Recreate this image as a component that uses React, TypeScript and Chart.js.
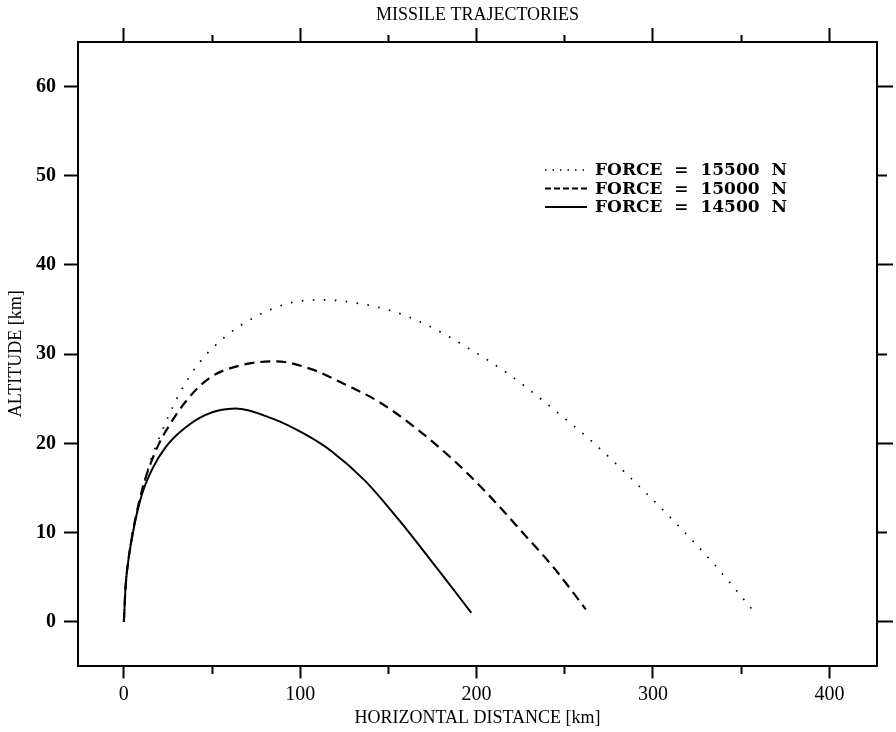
import { useEffect, useRef } from 'react';
import { Chart, registerables } from 'chart.js';

Chart.register(...registerables);

const TITLE = 'MISSILE TRAJECTORIES';
const X_TITLE = 'HORIZONTAL DISTANCE [km]';
const Y_TITLE = 'ALTITUDE [km]';

const X_TICKS = [0, 50, 100, 150, 200, 250, 300, 350, 400];
const X_LABELED = [0, 100, 200, 300, 400];
const Y_TICKS = [0, 10, 20, 30, 40, 50, 60];
const Y_RIGHT_MAJOR = [0, 20, 40, 60];

const LEGEND_LABELS = ['FORCE  =  15500  N', 'FORCE  =  15000  N', 'FORCE  =  14500  N'];

const F15500_X = [0, 1, 2.5, 4.5, 8.7, 14.4, 20, 31.3, 42.6, 57.7, 74.6, 93.4, 112.3, 133, 152.7, 171.5, 195.1, 218.6, 245, 266.6, 286.4, 310.8, 334, 357];
const F15500_Y = [0, 4, 6.9, 9.6, 13.2, 17.6, 20.6, 25.5, 29.0, 32.0, 34.2, 35.7, 36.1, 35.7, 34.8, 33.3, 30.7, 27.7, 23.6, 20.0, 16.3, 11.5, 6.6, 1.2];

const F15000_X = [0, 1, 2.5, 4.5, 7, 10.6, 14.5, 20, 25.7, 35.1, 48.3, 65.2, 85.9, 106.6, 125.5, 144.3, 166.9, 187.6, 206.4, 225.2, 244, 261.9];
const F15000_Y = [0, 4, 6.8, 9.4, 12.0, 15.0, 17.4, 20.0, 22.0, 24.7, 27.3, 28.7, 29.2, 28.3, 26.6, 24.7, 21.5, 18.0, 14.3, 10.2, 6.0, 1.4];

const F14500_X = [0, 1, 2.5, 4.5, 7, 10.6, 16.3, 23.8, 33.2, 46.4, 63.3, 84, 102.9, 117.9, 136.8, 155.6, 166.9, 181.9, 197];
const F14500_Y = [0, 4, 6.8, 9.3, 11.8, 14.5, 17.2, 19.6, 21.5, 23.2, 23.9, 22.8, 21.0, 19.1, 15.8, 11.5, 8.7, 4.9, 1.0];

const SERIES_X = [F15500_X, F15000_X, F14500_X];
const SERIES_Y = [F15500_Y, F15000_Y, F14500_Y];
const SERIES_DASH = [[1.6, 9.4], [10, 6], []];
const SERIES_WIDTH = [1.7, 2.2, 2];
const LEGEND_DASH = [[1.5, 6], [6, 3], []];

const SERIF = '"Liberation Serif", "Times New Roman", serif';
const LEGEND_FONT = 'bold 17px "DejaVu Serif", serif';

const legendPlugin = {
  id: 'insideLegend',
  afterDatasetsDraw(chart: any) {
    const { ctx, chartArea } = chart;
    const x0 = chartArea.right - 332;
    const x1 = x0 + 42;
    const tx = x1 + 8;
    const yStart = chartArea.top + 128;
    const dy = 18.5;
    ctx.save();
    chart.data.datasets.forEach((ds: any, i: number) => {
      const y = yStart + i * dy;
      ctx.strokeStyle = '#000';
      ctx.lineWidth = i === 0 ? 1.5 : 2;
      ctx.setLineDash(LEGEND_DASH[i]);
      ctx.beginPath();
      ctx.moveTo(x0, y);
      ctx.lineTo(x1, y);
      ctx.stroke();
      ctx.setLineDash([]);
      ctx.fillStyle = '#000';
      ctx.font = LEGEND_FONT;
      ctx.textBaseline = 'middle';
      ctx.textAlign = 'left';
      ctx.fillText(ds.label, tx, y + 1);
    });
    ctx.restore();
  },
};

const xMinorDash = (len: number, fromOuter: boolean) => (c: any) => {
  const v = c && c.tick ? c.tick.value : null;
  if (v === null || X_LABELED.includes(v)) return [];
  return fromOuter ? [0, 14 - len, len, 60] : [len, 60];
};

export default function App() {
  const ref = useRef<HTMLCanvasElement>(null);

  useEffect(() => {
    if (!ref.current) return;
    const datasets = LEGEND_LABELS.map((label, i) => ({
      label,
      data: SERIES_X[i].map((x, j) => ({ x, y: SERIES_Y[i][j] })),
      borderColor: '#000',
      backgroundColor: '#000',
      borderWidth: SERIES_WIDTH[i],
      borderDash: SERIES_DASH[i],
      pointRadius: 0,
      fill: false,
      cubicInterpolationMode: 'monotone' as const,
      xAxisID: 'x',
      yAxisID: 'y',
    }));

    const border = { display: true, color: '#000', width: 2 };

    const chart = new Chart(ref.current, {
      type: 'line',
      data: { datasets },
      plugins: [legendPlugin],
      options: {
        animation: false,
        responsive: false,
        layout: { padding: 0 },
        plugins: {
          legend: { display: false },
          tooltip: { enabled: false },
          title: {
            display: true,
            text: TITLE,
            color: '#000',
            fullSize: false,
            font: { family: SERIF, size: 18, weight: 'normal', lineHeight: 1.2 },
            padding: { top: 4, bottom: 2 },
          },
        },
        scales: {
          x: {
            type: 'linear',
            position: 'bottom',
            min: -26,
            max: 427,
            afterBuildTicks: (s: any) => { s.ticks = X_TICKS.map((v) => ({ value: v })); },
            afterFit: (s: any) => { s.height = 66.5; },
            border,
            grid: {
              drawOnChartArea: false,
              drawTicks: true,
              tickLength: 13,
              tickColor: '#000',
              tickWidth: 2,
              tickBorderDash: xMinorDash(7, false),
            },
            ticks: {
              color: '#000',
              autoSkip: false,
              maxRotation: 0,
              padding: 4,
              font: { family: SERIF, size: 20 },
              callback: (v: any) => (X_LABELED.includes(Number(v)) ? String(v) : ''),
            },
            title: {
              display: true,
              text: X_TITLE,
              color: '#000',
              font: { family: SERIF, size: 18, lineHeight: 1.2 },
              padding: { top: 0, bottom: 3 },
            },
          },
          x2: {
            type: 'linear',
            position: 'top',
            min: -26,
            max: 427,
            afterBuildTicks: (s: any) => { s.ticks = X_TICKS.map((v) => ({ value: v })); },
            afterFit: (s: any) => { s.height = 14.4; },
            border,
            grid: {
              drawOnChartArea: false,
              drawTicks: true,
              tickLength: 14,
              tickColor: '#000',
              tickWidth: 2,
              tickBorderDash: xMinorDash(7, true),
            },
            ticks: { display: false },
          },
          y: {
            type: 'linear',
            position: 'left',
            min: -4.9,
            max: 65,
            afterBuildTicks: (s: any) => { s.ticks = Y_TICKS.map((v) => ({ value: v })); },
            afterFit: (s: any) => { s.width = 78; },
            border,
            grid: {
              drawOnChartArea: false,
              drawTicks: true,
              tickLength: 14,
              tickColor: '#000',
              tickWidth: 2,
            },
            ticks: {
              color: '#000',
              autoSkip: false,
              padding: 8,
              font: { family: SERIF, size: 20, weight: 'bold' },
              callback: (v: any) => String(v),
            },
            title: {
              display: true,
              text: Y_TITLE,
              color: '#000',
              font: { family: SERIF, size: 18, lineHeight: 1.2 },
              padding: { top: 5, bottom: 0 },
            },
          },
          y2: {
            type: 'linear',
            position: 'right',
            min: -4.9,
            max: 65,
            afterBuildTicks: (s: any) => { s.ticks = Y_TICKS.map((v) => ({ value: v })); },
            afterFit: (s: any) => { s.width = 19; },
            border,
            grid: {
              drawOnChartArea: false,
              drawTicks: true,
              tickLength: 16,
              tickColor: '#000',
              tickWidth: 2,
              tickBorderDash: (c: any) => {
                const v = c && c.tick ? c.tick.value : null;
                if (v === null || Y_RIGHT_MAJOR.includes(v)) return [];
                return [9, 60];
              },
            },
            ticks: { display: false },
          },
        },
      } as any,
    });
    return () => chart.destroy();
  }, []);

  return (
    <div style={{ position: 'absolute', left: 0, top: 0, width: 896, height: 732, background: '#fff' }}>
      <canvas ref={ref} width={896} height={732} />
    </div>
  );
}
